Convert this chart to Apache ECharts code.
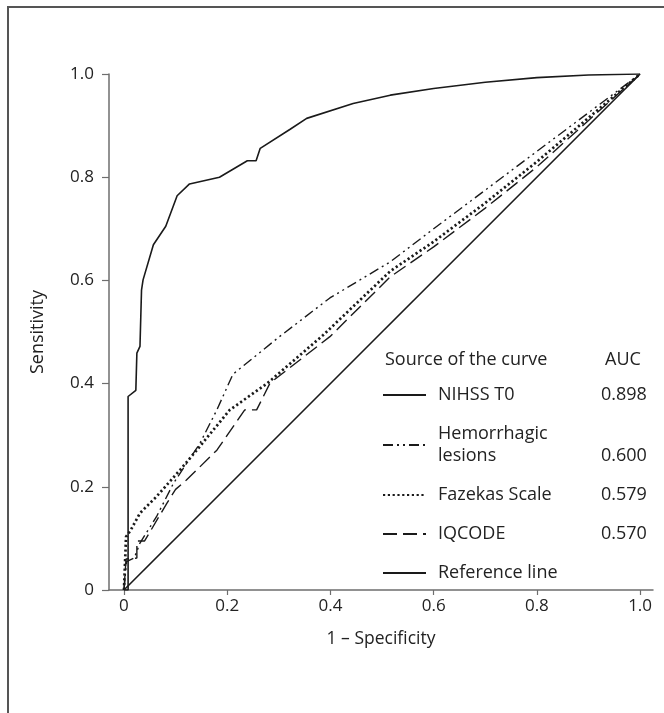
<!DOCTYPE html>
<html>
<head>
<meta charset="utf-8">
<script src="https://cdn.jsdelivr.net/npm/echarts@6/dist/echarts.min.js"></script>
<style>
  html, body { margin: 0; padding: 0; background: #fff; }
  #frame { position: absolute; left: 7px; top: 6px; right: 0; bottom: 0; border-top: 2px solid #555; border-left: 2px solid #555; }
  #chart { position: absolute; left: 0; top: 0; width: 664px; height: 713px; }
</style>
</head>
<body>
<div id="frame"></div>
<div id="chart"></div>
<script>
// ---- data ----
const seriesNames = ['NIHSS T0', 'Hemorrhagic lesions', 'Fazekas Scale', 'IQCODE', 'Reference line'];
const aucValues = ['0.898', '0.600', '0.579', '0.570', ''];
const tickValues = [0, 0.2, 0.4, 0.6, 0.8, 1.0];

const nihssX = [0, 0.008, 0.008, 0.023, 0.025, 0.031, 0.034, 0.037, 0.057, 0.081, 0.103, 0.127, 0.185, 0.239, 0.256, 0.264, 0.322, 0.354, 0.444, 0.516, 0.6, 0.7, 0.8, 0.9, 1.0];
const nihssY = [0, 0, 0.375, 0.387, 0.459, 0.472, 0.581, 0.601, 0.669, 0.705, 0.764, 0.787, 0.800, 0.832, 0.832, 0.856, 0.893, 0.914, 0.943, 0.959, 0.972, 0.984, 0.993, 0.998, 1.0];

const hemX = [0, 0.005, 0.02, 0.031, 0.063, 0.096, 0.147, 0.180, 0.211, 0.300, 0.399, 0.516, 0.6, 0.7, 0.8, 0.9, 1.0];
const hemY = [0, 0.055, 0.062, 0.091, 0.142, 0.207, 0.284, 0.349, 0.418, 0.490, 0.566, 0.636, 0.700, 0.775, 0.850, 0.925, 1.0];

const fazX = [0, 0.004, 0.013, 0.031, 0.063, 0.109, 0.141, 0.205, 0.277, 0.386, 0.516, 0.6, 0.7, 0.8, 0.9, 1.0];
const fazY = [0, 0.103, 0.116, 0.149, 0.181, 0.233, 0.271, 0.349, 0.400, 0.494, 0.618, 0.675, 0.750, 0.830, 0.915, 1.0];

const iqX = [0, 0.004, 0.025, 0.025, 0.040, 0.083, 0.100, 0.121, 0.180, 0.234, 0.257, 0.283, 0.399, 0.516, 0.6, 0.7, 0.8, 0.9, 1.0];
const iqY = [0, 0.060, 0.062, 0.095, 0.095, 0.168, 0.195, 0.213, 0.271, 0.349, 0.349, 0.401, 0.491, 0.607, 0.665, 0.740, 0.820, 0.910, 1.0];

const refX = [0, 1];
const refY = [0, 1];

function pairs(xs, ys) { return xs.map((x, i) => [x, ys[i]]); }

const ink = '#1a1a1a';
const axisCol = '#6e6e6e';
const font = 'Open Sans';

function fmt(v) { return v === 0 ? '0' : v.toFixed(1); }

const chart = echarts.init(document.getElementById('chart'), null, { renderer: 'canvas' });

const lineDefs = [
  { x: nihssX, y: nihssY, style: { color: ink, width: 1.6, type: 'solid' } },
  { x: hemX, y: hemY, style: { color: ink, width: 1.4, type: [10, 4, 2, 4, 2, 4] } },
  { x: fazX, y: fazY, style: { color: ink, width: 2.7, type: [2.2, 2.6] } },
  { x: iqX, y: iqY, style: { color: ink, width: 1.4, type: [14, 6] } },
  { x: refX, y: refY, style: { color: ink, width: 1.6, type: 'solid' } }
];

const series = lineDefs.map((d, i) => ({
  name: seriesNames[i],
  type: 'line',
  data: pairs(d.x, d.y),
  symbol: 'none',
  showSymbol: false,
  smooth: false,
  lineStyle: d.style,
  itemStyle: { color: ink },
  silent: true,
  animation: false
}));

const option = {
  backgroundColor: 'transparent',
  animation: false,
  textStyle: { fontFamily: font, color: '#222' },
  title: [
    { text: 'Source of the curve', left: 380, top: 346, textStyle: { fontFamily: font, fontSize: 18, fontWeight: 'normal', color: '#222' } },
    { text: 'AUC', left: 600, top: 346, textStyle: { fontFamily: font, fontSize: 18, fontWeight: 'normal', color: '#222' } }
  ],
  grid: { left: 109, right: 11, top: 74, bottom: 123, containLabel: false },
  xAxis: {
    type: 'value',
    min: -0.029,
    max: 1.025,
    name: '1 \u2013 Specificity',
    nameLocation: 'middle',
    nameGap: 40,
    nameTextStyle: { fontFamily: font, fontSize: 17.5, color: '#222' },
    axisLine: { show: true, onZero: false, lineStyle: { color: axisCol, width: 1.5 } },
    axisTick: { show: true, length: 5, customValues: tickValues, lineStyle: { color: axisCol, width: 1.2 } },
    axisLabel: { customValues: tickValues, formatter: fmt, margin: 8, fontFamily: font, fontSize: 17, color: '#222' },
    splitLine: { show: false }
  },
  yAxis: {
    type: 'value',
    min: 0,
    max: 1,
    interval: 0.2,
    name: 'Sensitivity',
    nameLocation: 'middle',
    nameGap: 62,
    nameTextStyle: { fontFamily: font, fontSize: 18, color: '#222' },
    axisLine: { show: true, onZero: false, lineStyle: { color: axisCol, width: 1.5 } },
    axisTick: { show: true, length: 7, lineStyle: { color: axisCol, width: 1.2 } },
    axisLabel: { formatter: fmt, margin: 15, fontFamily: font, fontSize: 17, color: '#222' },
    splitLine: { show: false }
  },
  legend: {
    orient: 'vertical',
    left: 377,
    top: 381,
    itemWidth: 43,
    itemHeight: 14,
    itemGap: 21,
    selectedMode: false,
    itemStyle: { opacity: 0 },
    data: seriesNames,
    textStyle: {
      fontFamily: font, fontSize: 18, color: '#222',
      rich: {
        n: { fontFamily: font, fontSize: 18, color: '#222', width: 163, padding: [0, 0, 0, 7], lineHeight: 22 },
        a: { fontFamily: font, fontSize: 18, color: '#222', lineHeight: 22 }
      }
    },
    formatter: function (name) {
      const i = seriesNames.indexOf(name);
      if (name === 'Hemorrhagic lesions') {
        return '{n|Hemorrhagic}\n{n|lesions}{a|' + aucValues[i] + '}';
      }
      return '{n|' + name + '}{a|' + aucValues[i] + '}';
    }
  },
  series: series
};

chart.setOption(option);
</script>
</body>
</html>
